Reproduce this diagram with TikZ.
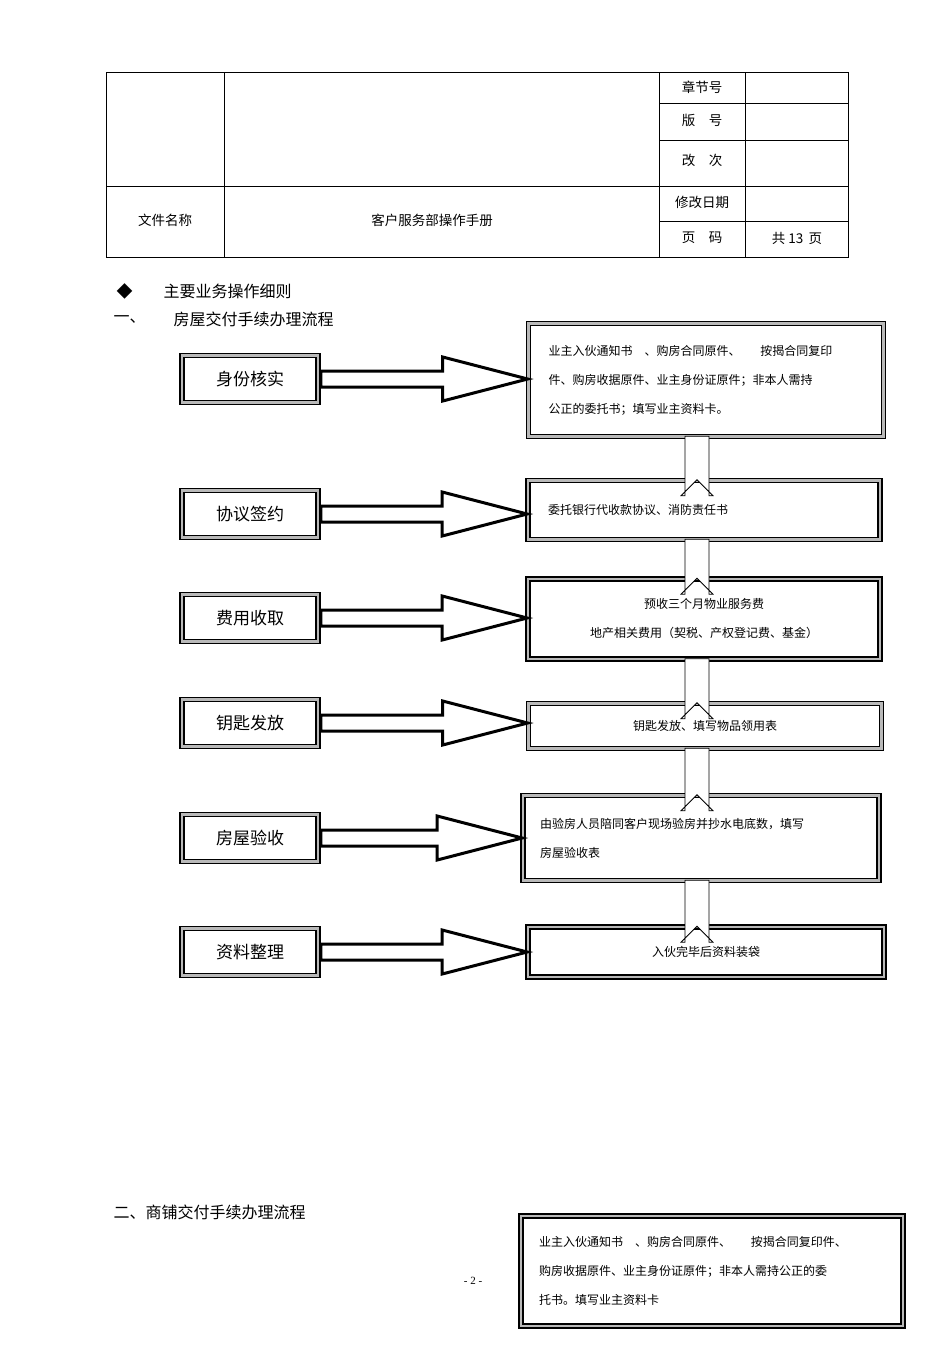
\documentclass[tikz,border=0pt]{standalone}
\usepackage{fontspec}
\setmainfont{Liberation Serif}
\newfontfamily\cjk{Noto Sans CJK SC}
\usetikzlibrary{calc}
\begin{document}
\begin{tikzpicture}[x=1pt,y=-1pt,
  every node/.style={font=\cjk},
  lbox/.style={draw,line width=1.6pt,double=gray!55,double distance=2.5pt,minimum width=136pt,minimum height=47pt,font=\cjk\fontsize{17}{20}\selectfont},
  rbox/.style={draw,line width=1.6pt,double=gray!55,double distance=2.5pt,inner sep=0pt,font=\cjk\fontsize{12}{29}\selectfont},
  harr/.style={draw,line width=3pt,fill=white,line join=miter},
  varr/.style={draw,line width=0.8pt,fill=white},
  ttext/.style={font=\cjk\fontsize{13.5}{16}\selectfont}]
\useasboundingbox (0,0) rectangle (950,1345);
% header table
\draw[line width=0.8pt] (106,72) rectangle (848,257);
\draw[line width=0.6pt] (224,72) -- (224,257) (659,72) -- (659,257) (745,72) -- (745,257)
  (106,186) -- (848,186) (659,103) -- (848,103) (659,140) -- (848,140) (659,221) -- (848,221);
\node[ttext] (t1) at (165,220) {文件名称};
\node[ttext] (t2) at (432,220) {客户服务部操作手册};
\node[ttext] (t3) at (702,87) {章节号};
\node[ttext] (t4) at (702,120) {版\quad 号};
\node[ttext] (t5) at (702,160) {改\quad 次};
\node[ttext] (t6) at (702,202) {修改日期};
\node[ttext] (t7) at (702,238) {页\quad 码};
\node[ttext] (t8) at (797,238) {共 13\, 页};
% headings
\node[font=\cjk\fontsize{16}{18}\selectfont,anchor=west] (h0) at (113,291) {◆};
\node[font=\cjk\fontsize{16}{18}\selectfont,anchor=west] (h1) at (160,291) {主要业务操作细则};
\node[font=\cjk\fontsize{16}{18}\selectfont,anchor=west] (h2) at (110,319) {一、};
\node[font=\cjk\fontsize{16}{18}\selectfont,anchor=west] (h3) at (170,319) {房屋交付手续办理流程};
\node[font=\cjk\fontsize{16}{18}\selectfont,anchor=west] (h4) at (110,1212) {二、商铺交付手续办理流程};
\node[font=\fontsize{11}{13}\selectfont] (pg) at (473,1281) {- 2 -};
% left boxes
\node[lbox] (L1) at (250,379) {身份核实};
\node[lbox] (L2) at (250,514) {协议签约};
\node[lbox] (L3) at (250,618) {费用收取};
\node[lbox] (L4) at (250,723) {钥匙发放};
\node[lbox] (L5) at (250,838) {房屋验收};
\node[lbox] (L6) at (250,952) {资料整理};
% right boxes
\node[rbox,minimum width=355pt,minimum height=113pt,text width=315pt,align=left] (R1) at (706,380)
 {业主入伙通知书\quad 、购房合同原件、\quad\ \ 按揭合同复印\\件、购房收据原件、业主身份证原件；非本人需持\\公正的委托书；填写业主资料卡。};
\node[rbox,minimum width=352pt,minimum height=59pt,text width=312pt,align=left] (R2) at (704,510)
 {委托银行代收款协议、消防责任书};
\node[rbox,minimum width=352pt,minimum height=80pt,text width=312pt,align=center] (R3) at (704,619)
 {预收三个月物业服务费\\地产相关费用（契税、产权登记费、基金）};
\node[rbox,minimum width=353pt,minimum height=45pt,text width=313pt,align=center] (R4) at (705,726)
 {钥匙发放、填写物品领用表};
\node[rbox,minimum width=356pt,minimum height=85pt,text width=322pt,align=left] (R5) at (701,838)
 {由验房人员陪同客户现场验房并抄水电底数，填写\\房屋验收表};
\node[rbox,minimum width=356pt,minimum height=50pt,text width=316pt,align=center] (R6) at (706,952)
 {入伙完毕后资料装袋};
\node[rbox,minimum width=382pt,minimum height=110pt,text width=346pt,align=left] (R7) at (712,1271)
 {业主入伙通知书\quad 、购房合同原件、\quad\ \ 按揭合同复印件、\\购房收据原件、业主身份证原件；非本人需持公正的委\\托书。填写业主资料卡};
% horizontal arrows
\foreach \a/\b in {L1/R1,L2/R2,L3/R3,L4/R4,L5/R5,L6/R6}{
  \path[harr] let \p1=(\a.east), \p2=(\b.west) in
   (\x1+2,\y1-8) -- (\x2-85,\y1-8) -- (\x2-85,\y1-22) -- (\x2,\y1) -- (\x2-85,\y1+22) -- (\x2-85,\y1+8) -- (\x1+2,\y1+8) -- cycle;
}
% vertical arrows
\foreach \a/\b in {R1/R2,R2/R3,R3/R4,R4/R5,R5/R6}{
  \path[varr] let \p1=(\a.south), \p2=(\b.north) in
   (685,\y1+1) -- (709,\y1+1) -- (709,\y2-16) -- (713,\y2-16) -- (697,\y2) -- (681,\y2-16) -- (685,\y2-16) -- cycle;
}
\end{tikzpicture}
\end{document}
